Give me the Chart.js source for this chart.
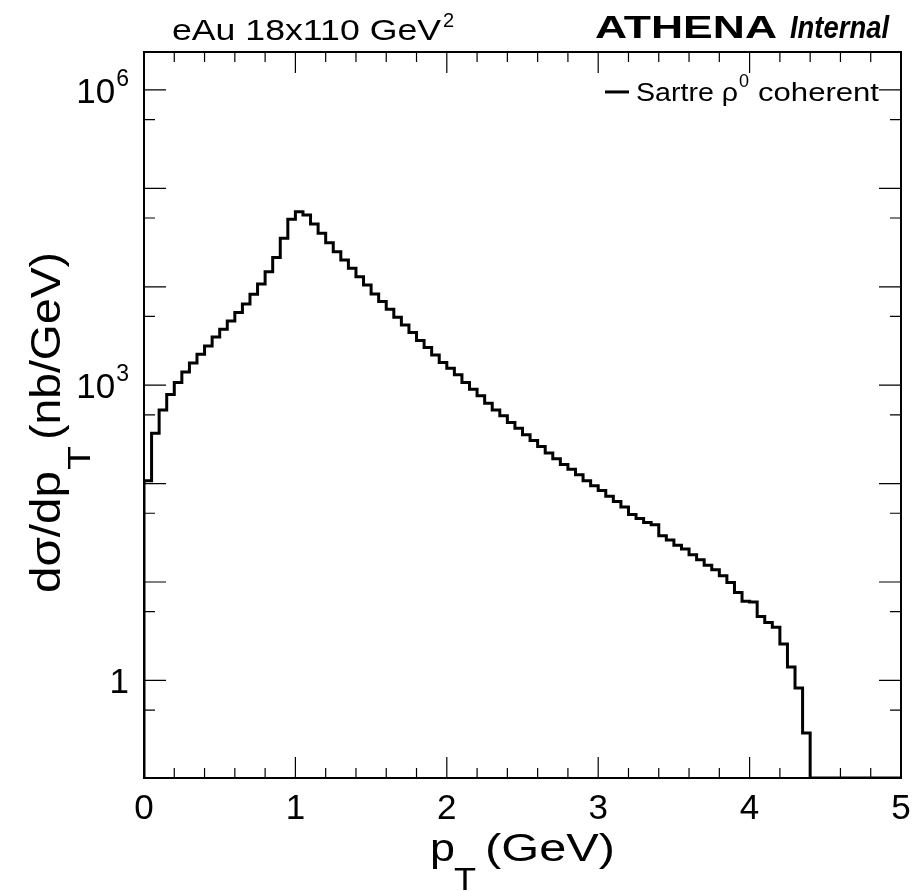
<!DOCTYPE html>
<html>
<head>
<meta charset="utf-8">
<script src="https://cdn.jsdelivr.net/npm/chart.js@4.4.1/dist/chart.umd.min.js"></script>
<style>
  body { margin: 0; background: #fff; }
  canvas { display: block; }
</style>
</head>
<body>
<canvas id="grafica" width="914" height="891"></canvas>
<script>
// binning of the histogram: 100 bins from 0 to 5 GeV
const nBins = 100;
const ptMin = 0;
const ptMax = 5;

// d sigma / d pT per bin (nb/GeV); empty bins are 0
const dsigma = [
  107, 325, 561, 802, 1063, 1365, 1685, 2065, 2507, 3095,
  3706, 4499, 5463, 6695, 8401, 10690, 14250, 19780, 31130, 48550,
  58000, 53680, 43500, 34990, 28080, 22750, 18740, 15430, 12680, 10440,
  8460, 7066, 5916, 4906, 4098, 3421, 2838, 2409, 2032, 1705,
  1488, 1273, 1063, 911, 779, 656, 561, 488, 417, 366,
  313, 274, 238, 205, 179, 156, 140, 123, 107, 94.9,
  85.0, 74.6, 65.7, 57.7, 48.5, 44.1, 40.2, 38.1, 29.6, 26.8,
  23.6, 21.7, 18.9, 16.8, 14.8, 13.3, 11.6, 9.88, 7.82, 6.37,
  6.25, 4.46, 3.88, 3.48, 2.34, 1.37, 0.836, 0.292, 0, 0,
  0, 0, 0, 0, 0, 0, 0, 0, 0, 0
];

// axis ranges
const yMin = 0.102;
const yMax = 2.43e6;

// tick marks and labels
const xMajorTicks = [0, 1, 2, 3, 4, 5];
const xMinorTicks = [0.2, 0.4, 0.6, 0.8, 1.2, 1.4, 1.6, 1.8, 2.2, 2.4, 2.6, 2.8, 3.2, 3.4, 3.6, 3.8, 4.2, 4.4, 4.6, 4.8];
const xTickLabels = ['0', '1', '2', '3', '4', '5'];
const yMajorTicks = [1, 10, 100, 1e3, 1e4, 1e5, 1e6];
const yMinorTicks = [0.5, 5, 50, 500, 5e3, 5e4, 5e5];
const yLabelValues = [1, 1e3, 1e6];
const yLabelBase = ['1', '10', '10'];
const yLabelExp = ['', '3', '6'];

const FONT = '"Liberation Sans", Arial, Helvetica, sans-serif';

// histogram as step line: a point at every lower bin edge plus the closing edge.
// empty bins sit on the lower edge of the frame, like ROOT draws them
let puntos = [{ x: ptMin, y: yMin }];
for (let i = 0; i < nBins; i++) {
    puntos.push({ x: ptMin + i * (ptMax - ptMin) / nBins, y: Math.max(dsigma[i], yMin) });
}
puntos.push({ x: ptMax, y: Math.max(dsigma[nBins - 1], yMin) });

function texto(ctx, str, x, y, size, opts) {
    opts = opts || {};
    ctx.font = (opts.weight || '') + ' ' + size + 'px ' + FONT;
    ctx.textAlign = opts.align || 'left';
    ctx.textBaseline = 'alphabetic';
    ctx.fillText(str, x, y);
    return ctx.measureText(str).width;
}

// draws a string stretched so that it fills the width between x and x + ancho
function ajustado(ctx, str, x, ancho, y, size, weight) {
    ctx.font = (weight || '') + ' ' + size + 'px ' + FONT;
    ctx.textAlign = 'left';
    ctx.textBaseline = 'alphabetic';
    const w = ctx.measureText(str).width;
    ctx.save();
    ctx.translate(x, y);
    ctx.scale(ancho / w, 1);
    ctx.fillText(str, 0, 0);
    ctx.restore();
}

const marcoPlugin = {
    id: 'marco',
    afterDraw(chart) {
        const ctx = chart.ctx;
        const a = chart.chartArea;
        const xs = chart.scales.x;
        const ys = chart.scales.y;
        ctx.save();
        ctx.fillStyle = '#000';
        ctx.strokeStyle = '#000';

        // frame
        ctx.lineWidth = 2;
        ctx.strokeRect(a.left, a.top, a.right - a.left, a.bottom - a.top);

        // ticks (inside, on all four sides)
        ctx.lineWidth = 1.2;
        ctx.beginPath();
        xMajorTicks.forEach(v => {
            const px = xs.getPixelForValue(v);
            ctx.moveTo(px, a.bottom); ctx.lineTo(px, a.bottom - 21);
            ctx.moveTo(px, a.top); ctx.lineTo(px, a.top + 21);
        });
        xMinorTicks.forEach(v => {
            const px = xs.getPixelForValue(v);
            ctx.moveTo(px, a.bottom); ctx.lineTo(px, a.bottom - 10);
            ctx.moveTo(px, a.top); ctx.lineTo(px, a.top + 10);
        });
        yMajorTicks.forEach(v => {
            const py = ys.getPixelForValue(v);
            ctx.moveTo(a.left, py); ctx.lineTo(a.left + 22, py);
            ctx.moveTo(a.right, py); ctx.lineTo(a.right - 22, py);
        });
        yMinorTicks.forEach(v => {
            const py = ys.getPixelForValue(v);
            ctx.moveTo(a.left, py); ctx.lineTo(a.left + 11, py);
            ctx.moveTo(a.right, py); ctx.lineTo(a.right - 11, py);
        });
        ctx.stroke();

        // x tick labels
        xMajorTicks.forEach((v, i) => {
            texto(ctx, xTickLabels[i], xs.getPixelForValue(v), a.bottom + 41, 35, { align: 'center' });
        });

        // y tick labels, right aligned, with exponent
        yLabelValues.forEach((v, i) => {
            const py = ys.getPixelForValue(v);
            let xr = a.left - 15;
            if (yLabelExp[i]) {
                const we = texto(ctx, yLabelExp[i], xr, py - 4, 23, { align: 'right' });
                xr -= we + 1;
            }
            texto(ctx, yLabelBase[i], xr, py + 13, 35, { align: 'right' });
        });

        // x axis title: p_T (GeV)
        ajustado(ctx, 'p', 430, 25, 861, 39);
        ajustado(ctx, 'T', 454, 22, 890, 32);
        ajustado(ctx, '(GeV)', 485, 130, 861, 39);

        // y axis title: dσ/dp_T (nb/GeV), rotated
        ctx.save();
        ctx.translate(60, 0);
        ctx.rotate(-Math.PI / 2);
        ajustado(ctx, 'dσ/dp', -593, 122, 0, 42);
        ajustado(ctx, 'T', -470, 24, 30, 31);
        ajustado(ctx, '(nb/GeV)', -440, 188, 0, 42);
        ctx.restore();

        // top labels
        ajustado(ctx, 'eAu 18x110 GeV', 172, 269, 40, 29);
        texto(ctx, '2', 443, 27, 20);
        ajustado(ctx, 'ATHENA', 595, 182, 38, 31, 'bold');
        ajustado(ctx, 'Internal', 790, 99, 38, 31, 'italic bold');

        // legend entry
        const ly = ys.getPixelForValue(1e6) + 2;
        ctx.lineWidth = 3;
        ctx.beginPath();
        ctx.moveTo(605, ly); ctx.lineTo(629, ly);
        ctx.stroke();
        ajustado(ctx, 'Sartre ρ', 636, 102, ly + 9, 25);
        texto(ctx, '0', 739, ly - 5, 18);
        ajustado(ctx, 'coherent', 758, 121, ly + 9, 25);

        ctx.restore();
    }
};

new Chart(document.getElementById('grafica').getContext('2d'), {
    type: 'line',
    data: {
        datasets: [{
            label: 'Sartre ρ0 coherent',
            data: puntos,
            stepped: 'before',
            borderColor: '#000',
            borderWidth: 3,
            pointRadius: 0,
            fill: false,
            tension: 0,
            borderJoinStyle: 'miter'
        }]
    },
    options: {
        responsive: false,
        animation: false,
        layout: { padding: { left: 144, right: 13, top: 52, bottom: 113 } },
        plugins: { legend: { display: false }, tooltip: { enabled: false } },
        scales: {
            x: { type: 'linear', min: ptMin, max: ptMax, display: false },
            y: { type: 'logarithmic', min: yMin, max: yMax, display: false }
        }
    },
    plugins: [marcoPlugin]
});
</script>
</body>
</html>
